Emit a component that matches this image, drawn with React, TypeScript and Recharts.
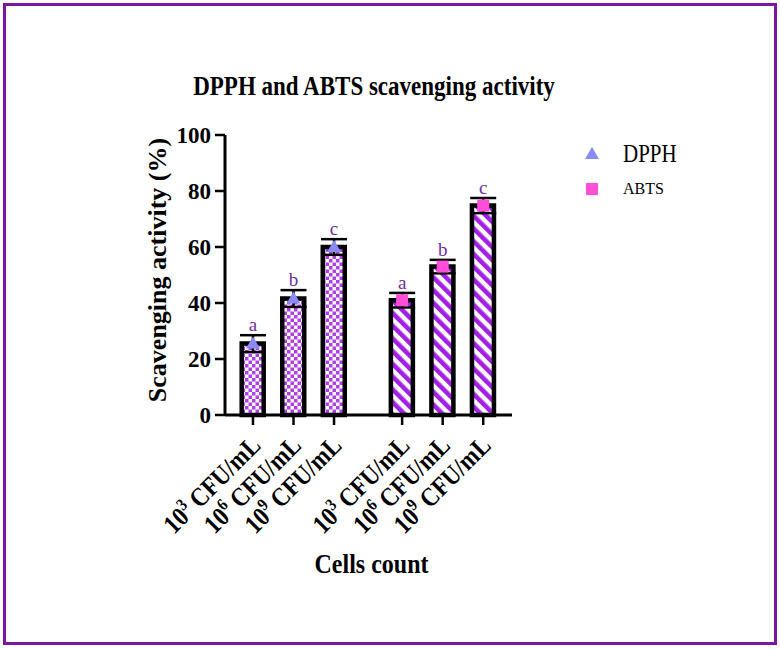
import React from "react";
import {
  Bar,
  Cell,
  ComposedChart,
  ErrorBar,
  Legend,
  Scatter,
  XAxis,
  YAxis,
} from "recharts";

// values
const groups = ["DPPH", "ABTS"];
const dpphValues = [25.5, 41.6, 60];
const dpphErrors = [3, 3, 2.8];
const abtsValues = [41, 53, 74.8];
const abtsErrors = [2.6, 2.4, 2.7];
const exponents = ["3", "6", "9"];
const letters = ["a", "b", "c"];
const yTicks = [0, 20, 40, 60, 80, 100];

const FONT = '"Liberation Serif", "Times New Roman", serif';
const GROUP_GAP = 0.68; // extra space between the two groups, in bar slots

const seriesValues = [dpphValues, abtsValues];
const seriesErrors = [dpphErrors, abtsErrors];

const rows = groups.flatMap((g, gi) =>
  seriesValues[gi].map((v, i) => ({
    group: g,
    pos: gi * (exponents.length + GROUP_GAP) + i,
    value: v,
    err: seriesErrors[gi][i],
    top: v + seriesErrors[gi][i],
    letter: letters[i],
    exp: exponents[i],
  }))
);
const dpphRows = rows.filter((r) => r.group === "DPPH");
const abtsRows = rows.filter((r) => r.group === "ABTS");
const lastPos = rows[rows.length - 1].pos;

const XTick = (props: any) => {
  const { x, y, payload } = props;
  const row = rows.find((r) => Math.abs(r.pos - payload.value) < 1e-6);
  if (!row) return null;
  return (
    <g transform={`translate(${x + 9},${y + 20})`}>
      <text
        transform="rotate(-45) scale(1,1.15)"
        textAnchor="end"
        fontFamily={FONT}
        fontWeight="bold"
        fontSize={23}
        fill="#000"
      >
        10
        <tspan dy={-9} fontSize={15}>
          {row.exp}
        </tspan>
        <tspan dy={9}> CFU/mL</tspan>
      </text>
    </g>
  );
};

const triangle = (p: any) => (
  <polygon
    points={`${p.cx},${p.cy - 7} ${p.cx - 7},${p.cy + 5} ${p.cx + 7},${p.cy + 5}`}
    fill="#8A8AF5"
  />
);
const square = (p: any) => (
  <rect x={p.cx - 6} y={p.cy - 6} width={12} height={12} fill="#FF4FD8" />
);
const nothing = () => <g />;
const letterShape = (p: any) => (
  <text
    x={p.cx}
    y={p.cy - 4}
    textAnchor="middle"
    fontFamily={FONT}
    fontSize={19}
    fill="#7030A0"
  >
    {p.payload.letter}
  </text>
);

const LegendBox = () => (
  <svg width={120} height={70}>
    <polygon points="12,12 5,24 19,24" fill="#8A8AF5" />
    <text x={43} y={27} fontFamily={FONT} fontSize={21} fill="#000" transform="translate(0,-4) scale(1,1.15)">
      DPPH
    </text>
    <rect x={6} y={48} width={12} height={12} fill="#FF4FD8" />
    <text x={43} y={59} fontFamily={FONT} fontSize={16} fill="#000">
      ABTS
    </text>
  </svg>
);

const App = () => {
  return (
    <div style={{ position: "absolute", left: 0, top: 0, width: 780, height: 649, background: "#fff" }}>
      <div
        style={{
          position: "absolute",
          left: 3,
          top: 3,
          width: 774,
          height: 642,
          border: "3px solid #7A16A0",
          boxSizing: "border-box",
        }}
      />
      <div
        style={{
          position: "absolute",
          left: 374,
          top: 74,
          transform: "translateX(-50%) scaleY(1.2)",
          whiteSpace: "nowrap",
          fontFamily: FONT,
          fontWeight: "bold",
          fontSize: 23,
        }}
      >
        DPPH and ABTS scavenging activity
      </div>
      <ComposedChart
        width={780}
        height={649}
        data={rows}
        margin={{ top: 135, right: 268, left: 155, bottom: 20 }}
        style={{ position: "absolute", left: 0, top: 0 }}
      >
        <defs>
          <pattern id="checker" patternUnits="userSpaceOnUse" width={7} height={7}>
            <rect width={7} height={7} fill="#fff" />
            <rect width={3.5} height={3.5} fill="#B040E6" />
            <rect x={3.5} y={3.5} width={3.5} height={3.5} fill="#B040E6" />
          </pattern>
          <pattern
            id="stripes"
            patternUnits="userSpaceOnUse"
            width={9}
            height={9}
            patternTransform="rotate(-45)"
          >
            <rect width={9} height={9} fill="#fff" />
            <rect width={4.6} height={9} fill="#A41FE6" />
          </pattern>
        </defs>
        <XAxis
          type="number"
          dataKey="pos"
          domain={[-0.69, lastPos + 0.71]}
          ticks={rows.map((r) => r.pos)}
          tick={<XTick />}
          tickSize={10}
          height={214}
          interval={0}
          axisLine={{ stroke: "#000", strokeWidth: 3 }}
          tickLine={{ stroke: "#000", strokeWidth: 2.5 }}
          label={{
            content: (p: any) => {
              const x = p.viewBox.x + p.viewBox.width / 2 + 3;
              const y = p.viewBox.y + 158;
              return (
                <text
                  x={x}
                  y={y}
                  transform={`translate(0,${-y * 0.15}) scale(1,1.15)`}
                  textAnchor="middle"
                  fontFamily={FONT}
                  fontWeight="bold"
                  fontSize={24}
                  fill="#000"
                >
                  Cells count
                </text>
              );
            },
          }}
        />
        <YAxis
          type="number"
          domain={[0, 100]}
          ticks={yTicks}
          width={70}
          tickSize={10}
          tickMargin={4}
          tick={{ fill: "#000", fontFamily: FONT, fontWeight: "bold", fontSize: 23 }}
          axisLine={{ stroke: "#000", strokeWidth: 3 }}
          tickLine={{ stroke: "#000", strokeWidth: 2.5 }}
          label={{
            content: (p: any) => {
              const x = p.viewBox.x + 11;
              const y = p.viewBox.y + p.viewBox.height / 2 - 5;
              return (
                <text
                  x={x}
                  y={y}
                  transform={`rotate(-90, ${x}, ${y})`}
                  textAnchor="middle"
                  fontFamily={FONT}
                  fontWeight="bold"
                  fontSize={26}
                  fill="#000"
                >
                  Scavenging activity (%)
                </text>
              );
            },
          }}
        />
        <Bar dataKey="value" barSize={22} stroke="#000" strokeWidth={4.5} isAnimationActive={false}>
          {rows.map((r) => (
            <Cell key={r.pos} fill={r.group === "DPPH" ? "url(#checker)" : "url(#stripes)"} />
          ))}
        </Bar>
        <Scatter data={dpphRows} dataKey="value" shape={triangle} isAnimationActive={false} />
        <Scatter data={abtsRows} dataKey="value" shape={square} isAnimationActive={false} />
        <Scatter data={rows} dataKey="value" shape={nothing} isAnimationActive={false}>
          <ErrorBar dataKey="err" direction="y" width={13} stroke="#000" strokeWidth={2.5} />
        </Scatter>
        <Scatter data={rows} dataKey="top" shape={letterShape} isAnimationActive={false} />
        <Legend
          layout="vertical"
          align="center"
          verticalAlign="middle"
          content={() => <LegendBox />}
          wrapperStyle={{ left: 580, top: 135, width: 120, height: 70 }}
        />
      </ComposedChart>
    </div>
  );
};

export default App;
